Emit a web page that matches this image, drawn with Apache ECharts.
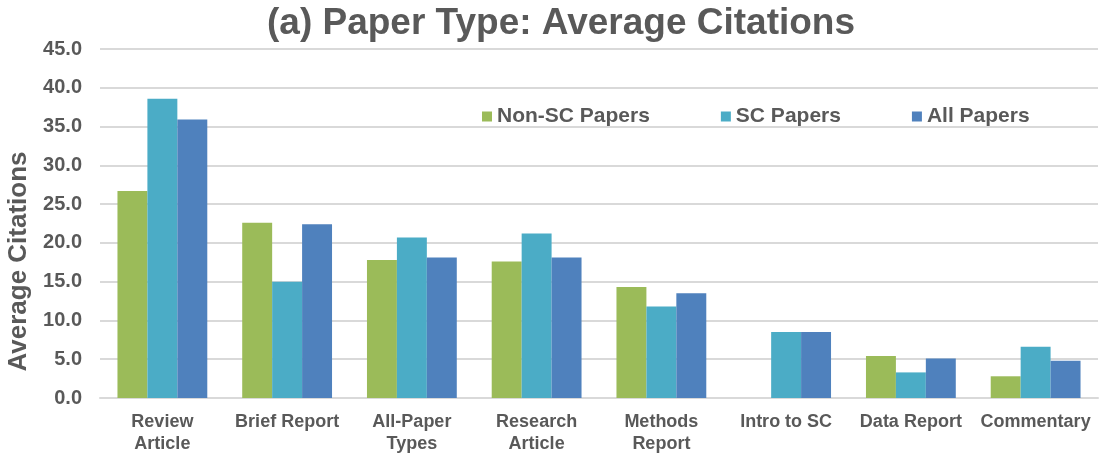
<!DOCTYPE html>
<html>
<head>
<meta charset="utf-8">
<script src="https://cdn.jsdelivr.net/npm/echarts@6/dist/echarts.min.js"></script>
<style>
  html, body { margin: 0; padding: 0; background: #fff; }
  #chart { width: 1104px; height: 454px; }
</style>
</head>
<body>
<div id="chart"></div>
<script>
var categories = ['Review\nArticle', 'Brief Report', 'All-Paper\nTypes', 'Research\nArticle', 'Methods\nReport', 'Intro to SC', 'Data Report', 'Commentary']
var nonScPapers = [26.7, 22.6, 17.8, 17.6, 14.3, 0, 5.4, 2.8]
var scPapers = [38.6, 15.0, 20.7, 21.2, 11.8, 8.5, 3.3, 6.6]
var allPapers = [35.9, 22.4, 18.1, 18.1, 13.5, 8.5, 5.1, 4.8]

var chart = echarts.init(document.getElementById('chart'))
var textColor = '#595959'
var font = '"Liberation Sans", Arial, sans-serif'

var option = {
    animation: false,
    title: {
        text: '(a) Paper Type: Average Citations',
        left: 262,
        top: 0,
        textStyle: {
            color: textColor,
            fontFamily: font,
            fontWeight: 'bold',
            fontSize: 37
        }
    },
    legend: {
        left: 477,
        top: 101,
        itemWidth: 10,
        itemHeight: 10,
        itemGap: 71,
        icon: 'rect',
        textStyle: {
            color: textColor,
            fontFamily: font,
            fontWeight: 'bold',
            fontSize: 21
        },
        data: ['Non-SC Papers', 'SC Papers', 'All Papers']
    },
    grid: {
        left: 100,
        right: 6,
        top: 49,
        bottom: 56,
        outerBoundsMode: 'none'
    },
    xAxis: {
        type: 'category',
        data: categories,
        axisTick: { show: false },
        axisLine: { lineStyle: { color: '#d9d9d9', width: 2 } },
        axisLabel: {
            interval: 0,
            margin: 13,
            color: textColor,
            fontFamily: font,
            fontWeight: 'bold',
            fontSize: 18,
            lineHeight: 22
        }
    },
    yAxis: {
        type: 'value',
        min: 0,
        max: 45,
        interval: 5,
        name: 'Average Citations',
        nameLocation: 'middle',
        nameGap: 63,
        nameTextStyle: {
            color: textColor,
            fontFamily: font,
            fontWeight: 'bold',
            fontSize: 26,
            padding: [0, 76, 0, 0]
        },
        axisLine: { show: false },
        axisTick: { show: false },
        splitLine: { lineStyle: { color: '#d9d9d9', width: 2 } },
        axisLabel: {
            margin: 18,
            color: textColor,
            fontFamily: font,
            fontWeight: 'bold',
            fontSize: 20,
            formatter: function (v) { return v.toFixed(1) }
        }
    },
    series: [
        { name: 'Non-SC Papers', type: 'bar', data: nonScPapers, itemStyle: { color: '#9bbb59' }, barGap: '0%', barCategoryGap: '28%' },
        { name: 'SC Papers', type: 'bar', data: scPapers, itemStyle: { color: '#4bacc6' }, barGap: '0%', barCategoryGap: '28%' },
        { name: 'All Papers', type: 'bar', data: allPapers, itemStyle: { color: '#4f81bd' }, barGap: '0%', barCategoryGap: '28%' }
    ]
}
chart.setOption(option)
</script>
</body>
</html>
